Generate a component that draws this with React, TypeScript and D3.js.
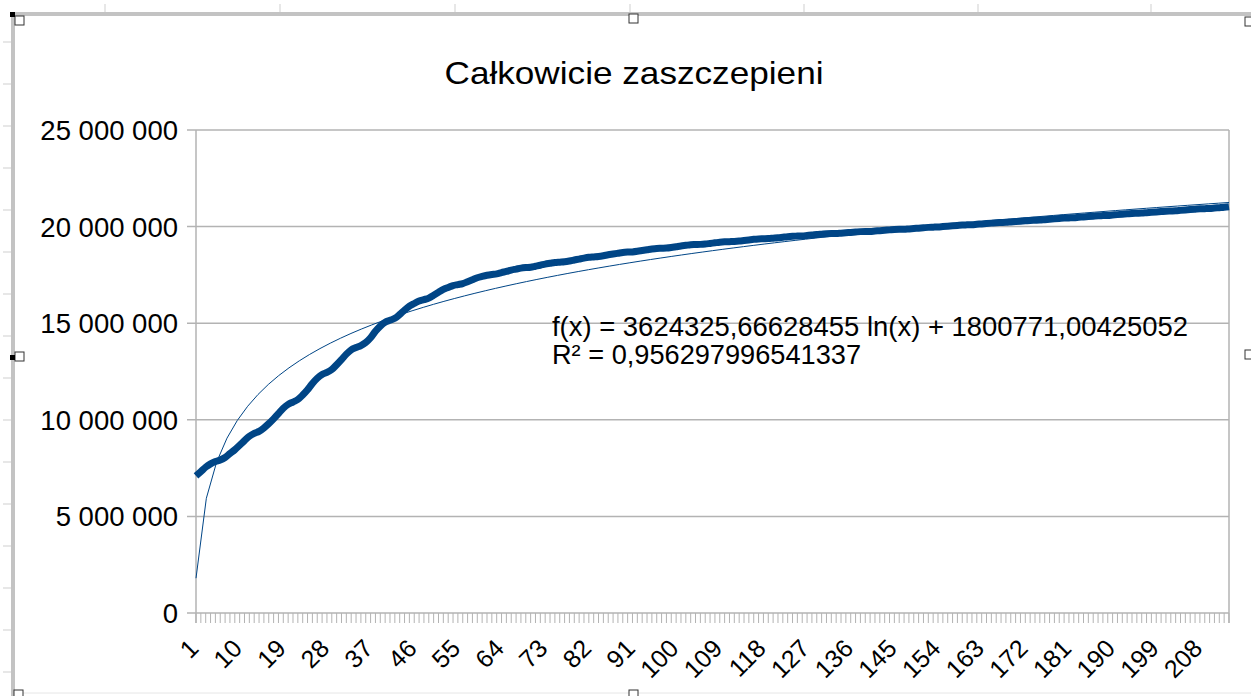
import React from "react";
import * as d3 from "d3";

const TITLE = "Całkowicie zaszczepieni";

// Fully vaccinated, in millions, per day index 1..214
const vaccinatedM = [
  7.10, 7.32, 7.55, 7.72, 7.84, 7.92, 8.05, 8.25, 8.45, 8.68,
  8.92, 9.15, 9.30, 9.40, 9.58, 9.80, 10.05, 10.32, 10.60, 10.80,
  10.92, 11.05, 11.28, 11.55, 11.88, 12.15, 12.35, 12.45, 12.60, 12.85,
  13.12, 13.40, 13.62, 13.74, 13.84, 14.00, 14.25, 14.58, 14.85, 15.05,
  15.15, 15.25, 15.45, 15.68, 15.88, 16.02, 16.15, 16.22, 16.30, 16.45,
  16.60, 16.75, 16.85, 16.95, 17.00, 17.05, 17.15, 17.25, 17.35, 17.42,
  17.48, 17.52, 17.55, 17.62, 17.68, 17.75, 17.80, 17.85, 17.88, 17.90,
  17.95, 18.00, 18.06, 18.10, 18.14, 18.16, 18.18, 18.22, 18.27, 18.32,
  18.37, 18.41, 18.43, 18.45, 18.49, 18.54, 18.58, 18.62, 18.66, 18.68,
  18.69, 18.72, 18.76, 18.80, 18.84, 18.87, 18.88, 18.89, 18.92, 18.96,
  19.00, 19.03, 19.06, 19.07, 19.08, 19.10, 19.13, 19.16, 19.19, 19.21,
  19.22, 19.23, 19.25, 19.28, 19.31, 19.34, 19.36, 19.37, 19.38, 19.40,
  19.42, 19.45, 19.48, 19.50, 19.51, 19.52, 19.54, 19.56, 19.59, 19.61,
  19.63, 19.64, 19.64, 19.66, 19.68, 19.70, 19.72, 19.74, 19.75, 19.75,
  19.77, 19.79, 19.81, 19.83, 19.85, 19.86, 19.86, 19.88, 19.90, 19.92,
  19.94, 19.96, 19.97, 19.98, 20.00, 20.02, 20.04, 20.06, 20.08, 20.09,
  20.10, 20.12, 20.14, 20.16, 20.18, 20.20, 20.21, 20.22, 20.24, 20.26,
  20.28, 20.30, 20.32, 20.33, 20.34, 20.36, 20.38, 20.40, 20.42, 20.44,
  20.45, 20.46, 20.48, 20.50, 20.52, 20.54, 20.56, 20.57, 20.58, 20.60,
  20.62, 20.64, 20.66, 20.68, 20.69, 20.70, 20.72, 20.74, 20.76, 20.78,
  20.80, 20.81, 20.82, 20.84, 20.86, 20.88, 20.90, 20.92, 20.93, 20.94,
  20.96, 20.98, 21.00, 21.03,
];

const categories = vaccinatedM.map((_, i) => i + 1);

const xTickLabels = [
  1, 10, 19, 28, 37, 46, 55, 64, 73, 82, 91, 100, 109, 118, 127, 136, 145,
  154, 163, 172, 181, 190, 199, 208,
];

const yTicks = [0, 5000000, 10000000, 15000000, 20000000, 25000000];

const trendA = 3624325.66628455;
const trendB = 1800771.00425052;
const trendSegments = 100;

const EQ_LINE1 = "f(x) = 3624325,66628455 ln(x) + 1800771,00425052";
const EQ_LINE2 = "R² = 0,956297996541337";

const W = 1251;
const H = 696;
const FONT = "'Liberation Sans', Arial, sans-serif";
const SERIES_COLOR = "#004586";
const GRID = "#b3b3b3";
const FRAME = "#c3c3c3";

const rowMarks = [42, 84, 126, 168, 210, 252, 294, 336, 378, 420, 462, 504, 546, 588, 630, 672];
const colMarks = [105, 280, 455, 630, 804, 978, 1151];

export default function App() {
  const plot = { left: 196, right: 1229, top: 130, bottom: 613 };
  const x = d3
    .scaleLinear()
    .domain([1, categories.length])
    .range([plot.left, plot.right]);
  const y = d3.scaleLinear().domain([0, 25000000]).range([plot.bottom, plot.top]);

  const dataLine = d3
    .line<number>()
    .x((_, i) => x(categories[i]))
    .y((d) => y(d * 1e6))
    .curve(d3.curveMonotoneX);

  const n = categories.length;
  const trendPts: [number, number][] = d3
    .range(trendSegments + 1)
    .map((k) => {
      const t = 1 + ((n - 1) * k) / trendSegments;
      return [x(t), y(trendA * Math.log(t) + trendB)];
    });
  const trendPath = d3.line()(trendPts) || "";

  const fmt = (v: number) => d3.format(",")(v).replace(/,/g, " ");

  const handle = (hx: number, hy: number, key: string) => (
    <rect key={key} x={hx} y={hy} width={9} height={9} fill="#fff" stroke="#333" strokeWidth={1} />
  );

  return (
    <svg
      width={W}
      height={H}
      style={{ position: "absolute", left: 0, top: 0, display: "block", background: "#fff" }}
      fontFamily={FONT}
    >
      <rect x={0} y={0} width={W} height={H} fill="#fff" />
      {/* spreadsheet row/column marks */}
      {rowMarks.map((m) => (
        <line key={"r" + m} x1={3} x2={11} y1={m} y2={m} stroke="#cfcfcf" strokeWidth={1} />
      ))}
      {colMarks.map((m) => (
        <line key={"c" + m} x1={m} x2={m} y1={4} y2={13} stroke="#cfcfcf" strokeWidth={1} />
      ))}
      {/* chart frame */}
      <rect x={10} y={12} width={W - 10} height={4} fill={FRAME} />
      <rect x={11} y={12} width={4} height={H - 12} fill={FRAME} />
      <line x1={15} x2={W} y1={693} y2={693} stroke="#e6e6e6" strokeWidth={1} />

      {/* title */}
      <text x={634} y={84} textAnchor="middle" fontSize={32} fill="#000" textLength={379} lengthAdjust="spacingAndGlyphs">
        {TITLE}
      </text>

      {/* gridlines & y ticks */}
      {yTicks.map((t) => (
        <g key={"y" + t}>
          <line x1={plot.left - 9} x2={plot.right} y1={y(t)} y2={y(t)} stroke={GRID} strokeWidth={1.5} />
          <text x={178} y={y(t)} dy="0.36em" textAnchor="end" fontSize={27.5} fill="#000">
            {fmt(t)}
          </text>
        </g>
      ))}
      {/* plot border */}
      <line x1={plot.left} x2={plot.left} y1={plot.top} y2={plot.bottom + 10} stroke={GRID} strokeWidth={1.5} />
      <line x1={plot.right} x2={plot.right} y1={plot.top} y2={plot.bottom + 10} stroke={GRID} strokeWidth={1.5} />

      {/* x ticks */}
      {categories.map((c) => (
        <line key={"xt" + c} x1={x(c)} x2={x(c)} y1={plot.bottom} y2={plot.bottom + 10} stroke={GRID} strokeWidth={1} />
      ))}
      {xTickLabels.map((c) => (
        <text
          key={"xl" + c}
          transform={`translate(${x(c) + 4},${650}) rotate(-45)`}
          textAnchor="end"
          fontSize={25}
          fill="#000"
        >
          {c}
        </text>
      ))}

      {/* series */}
      <path d={dataLine(vaccinatedM) || ""} fill="none" stroke={SERIES_COLOR} strokeWidth={7} strokeLinejoin="round" />
      <path d={trendPath} fill="none" stroke={SERIES_COLOR} strokeWidth={1} />

      {/* trend equation */}
      <text x={552} y={336} fontSize={27} fill="#000" textLength={636} lengthAdjust="spacingAndGlyphs">
        {EQ_LINE1}
      </text>
      <text x={552} y={364} fontSize={27} fill="#000" textLength={309} lengthAdjust="spacingAndGlyphs">
        {EQ_LINE2}
      </text>

      {/* selection handles */}
      {handle(15, 16, "h1")}
      {handle(629, 14, "h2")}
      {handle(1245, 17, "h3")}
      {handle(15, 352, "h4")}
      {handle(1245, 350, "h5")}
      {handle(14, 690, "h6")}
      {handle(629, 690, "h7")}
      <rect x={10} y={12} width={5} height={5} fill="#000" />
      <rect x={10} y={355} width={5} height={5} fill="#000" />
    </svg>
  );
}
